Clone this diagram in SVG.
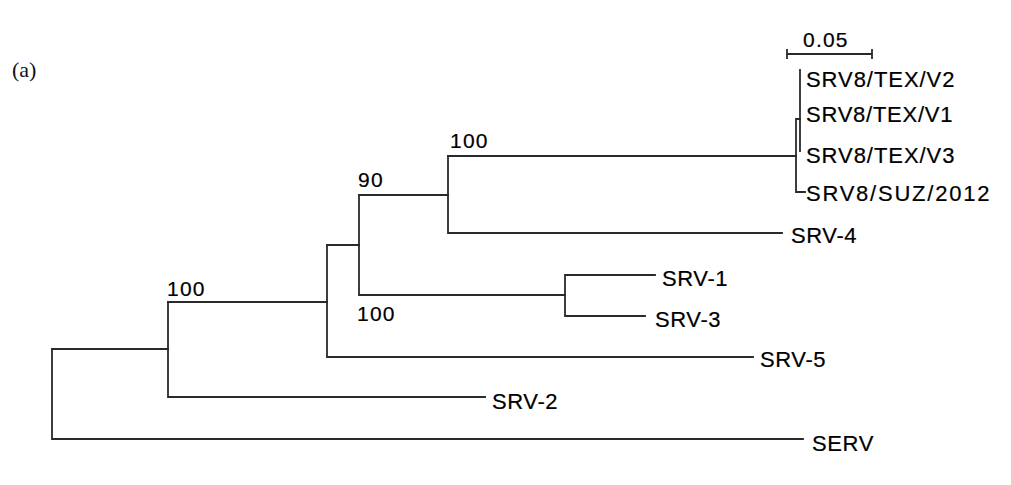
<svg xmlns="http://www.w3.org/2000/svg" width="1011" height="485" viewBox="0 0 1011 485">
<style>
.br{stroke:#2a2a2a;stroke-width:1.8;fill:none;stroke-linecap:square}
.lb{font-family:"Liberation Sans",Arial,sans-serif;font-size:22px;fill:#000;letter-spacing:0.6px;stroke:#000;stroke-width:0.2}
.bs{font-family:"Liberation Sans",Arial,sans-serif;font-size:21px;fill:#000;letter-spacing:1.2px;stroke:#000;stroke-width:0.2}
.ttl{font-family:"Liberation Serif","Times New Roman",serif;font-size:22px;fill:#111}
</style>
<rect width="1011" height="485" fill="#fff"/>
<text class="ttl" x="12" y="77">(a)</text>
<g id="scale">
<path class="br" d="M787 54H872M787 50V58M872 50V58"/>
<text class="bs" x="803" y="47">0.05</text>
</g>
<g id="connectors">
<path class="br" d="M52 349V439H803"/>
<path class="br" d="M52 349H168"/>
<path class="br" d="M168 302V397H485"/>
<path class="br" d="M168 302H327"/>
<path class="br" d="M327 245V357H753"/>
<path class="br" d="M327 245H359"/>
<path class="br" d="M359 195V295H565"/>
<path class="br" d="M359 195H448"/>
<path class="br" d="M448 156V233H782"/>
<path class="br" d="M448 156H796"/>
<path class="br" d="M565 275V316H645M565 275H655"/>
<path class="br" d="M796 119V192H805M796 119H800"/>
<path class="br" d="M800 70V151"/>
</g>
<g id="support">
<text class="bs" x="167" y="296">100</text>
<text class="bs" x="358" y="187">90</text>
<text class="bs" x="357" y="321">100</text>
<text class="bs" x="450" y="148">100</text>
</g>
<g id="n-tex-v2"><text class="lb" x="806" y="87" textLength="149">SRV8/TEX/V2</text></g>
<g id="n-tex-v1"><text class="lb" x="806" y="122" textLength="147">SRV8/TEX/V1</text></g>
<g id="n-tex-v3"><text class="lb" x="806" y="163" textLength="149">SRV8/TEX/V3</text></g>
<g id="n-suz"><text class="lb" x="806" y="201" textLength="184">SRV8/SUZ/2012</text></g>
<g id="n-srv4"><text class="lb" x="791" y="243">SRV-4</text></g>
<g id="n-srv1"><text class="lb" x="662" y="286">SRV-1</text></g>
<g id="n-srv3"><text class="lb" x="655" y="327">SRV-3</text></g>
<g id="n-srv5"><text class="lb" x="760" y="367">SRV-5</text></g>
<g id="n-srv2"><text class="lb" x="492" y="409">SRV-2</text></g>
<g id="n-serv"><text class="lb" x="812" y="451">SERV</text></g>
</svg>
